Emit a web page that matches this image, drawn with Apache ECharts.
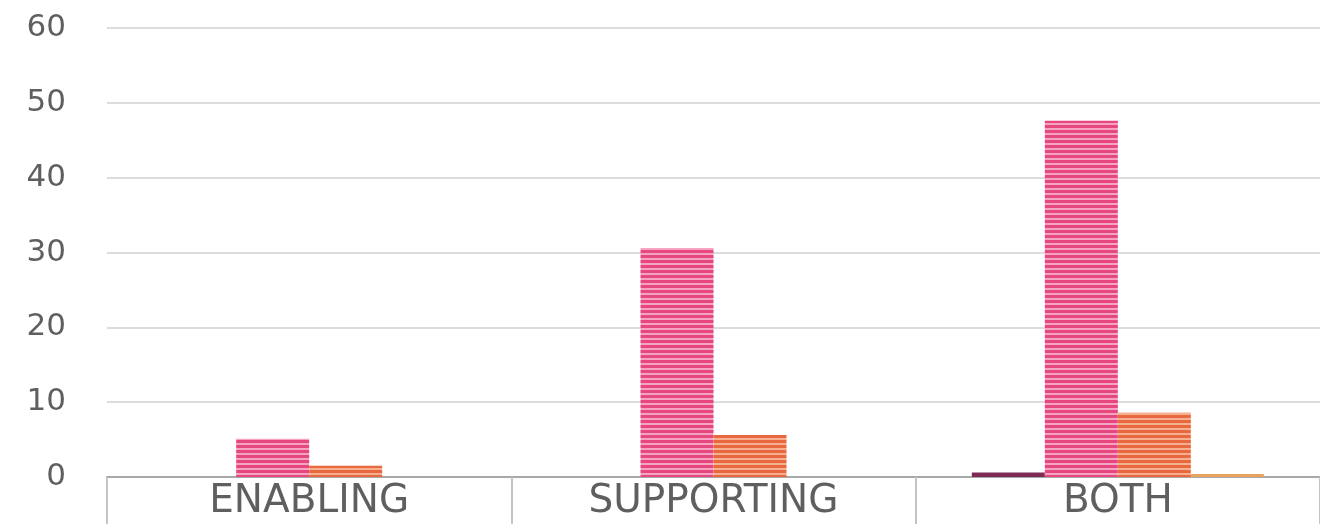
<!DOCTYPE html>
<html><head><meta charset="utf-8">
<script src="https://cdn.jsdelivr.net/npm/echarts@6/dist/echarts.min.js"></script>
<style>html,body{margin:0;padding:0;background:#fff}#c{width:1320px;height:524px}</style>
</head><body><div id="c"></div>
<script>
const categories = ['ENABLING', 'SUPPORTING', 'BOTH'];
const series1 = [0, 0, 0.6];
const series2 = [5.1, 30.6, 47.6];
const series3 = [1.5, 5.6, 8.6];
const series4 = [0, 0, 0.4];
const yTicks = { min: 0, max: 60, interval: 10 };

function stripe(base, light) {
  const c = document.createElement('canvas');
  c.width = 4; c.height = 5;
  const g = c.getContext('2d');
  g.fillStyle = base; g.fillRect(0, 0, 4, 5);
  g.fillStyle = light; g.fillRect(0, 3, 4, 2);
  return { image: c, repeat: 'repeat' };
}

const chart = echarts.init(document.getElementById('c'), null, { renderer: 'canvas' });
const font = 'DejaVu Sans';
chart.setOption({
  animation: false,
  grid: { left: 107, top: 28, width: 1215, height: 449, containLabel: false },
  xAxis: {
    type: 'category', data: categories,
    axisLine: { lineStyle: { color: '#a8a8a8', width: 2 } },
    axisTick: { show: true, length: 60, lineStyle: { color: '#c4c4c4', width: 2 } },
    axisLabel: { color: '#5f5f5f', fontFamily: font, fontSize: 39, margin: 5, fontWeight: 'normal' }
  },
  yAxis: {
    type: 'value', min: yTicks.min, max: yTicks.max, interval: yTicks.interval,
    axisLine: { show: false }, axisTick: { show: false },
    splitLine: { lineStyle: { color: '#dcdcdc', width: 2 } },
    axisLabel: { color: '#5f5f5f', fontFamily: font, fontSize: 31, margin: 41 }
  },
  series: [
    { type: 'bar', data: series1, barWidth: 73, barGap: '0%', itemStyle: { color: '#7d2a55' } },
    { type: 'bar', data: series2, barWidth: 73, barGap: '0%', itemStyle: { color: stripe('#e6477f', '#f5a3c1') } },
    { type: 'bar', data: series3, barWidth: 73, barGap: '0%', itemStyle: { color: stripe('#e8683f', '#f4b08f') } },
    { type: 'bar', data: series4, barWidth: 73, barGap: '0%', itemStyle: { color: '#e9a35c' } }
  ]
});
</script></body></html>
